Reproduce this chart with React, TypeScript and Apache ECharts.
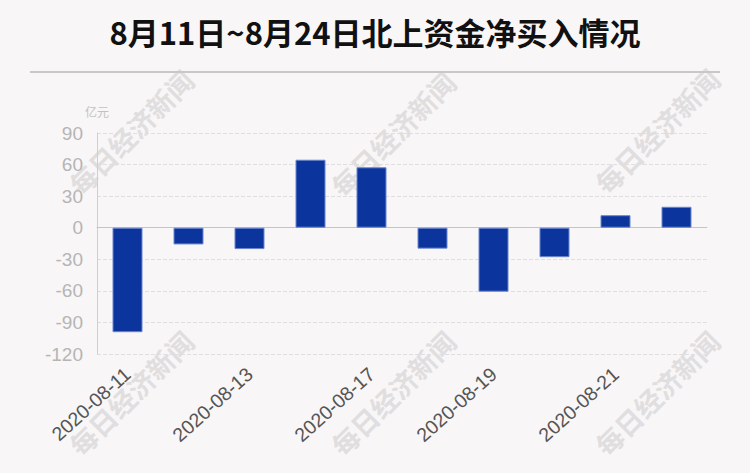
import React, { useEffect, useRef } from "react";
import * as echarts from "echarts";

const TITLE = "8月11日~8月24日北上资金净买入情况";
const UNIT = "亿元";
const WATERMARK = "每日经济新闻";
const dates = [
  "2020-08-11",
  "2020-08-12",
  "2020-08-13",
  "2020-08-14",
  "2020-08-17",
  "2020-08-18",
  "2020-08-19",
  "2020-08-20",
  "2020-08-21",
  "2020-08-24",
];
const netBuy = [-99.3, -15.9, -20.3, 64.6, 57.4, -19.9, -60.8, -28.0, 11.9, 19.9];

const BG = "#f9f6f7";

export default function App() {
  const ref = useRef<HTMLDivElement>(null);
  useEffect(() => {
    document.body.style.margin = "0";
    document.body.style.background = BG;
    const chart = echarts.init(ref.current!, undefined, { renderer: "svg" });
    const wmCenters = [
      [131, 132],
      [393, 134],
      [657, 131],
      [131, 393],
      [393, 393],
      [657, 393],
    ];
    chart.setOption({
      animation: false,
      backgroundColor: BG,
      title: {
        text: TITLE,
        left: "center",
        top: 11,
        textStyle: {
          fontSize: 31,
          fontWeight: "bold",
          color: "#111111",
          fontFamily: "Noto Sans CJK SC",
        },
      },
      graphic: [
        ...wmCenters.map(([x, y]) => ({
          type: "text",
          x,
          y,
          rotation: Math.PI / 4,
          z: 0,
          silent: true,
          style: {
            text: WATERMARK,
            fill: "#e0dedf",
            font: "bold 27px 'Noto Sans CJK SC'",
            align: "center",
            verticalAlign: "middle",
          },
        })),
        {
          type: "line",
          shape: { x1: 30, y1: 72, x2: 720, y2: 72 },
          style: { stroke: "#c8c8c8", lineWidth: 2 },
        },
      ],
      grid: { left: 97, right: 43, top: 133, bottom: 119 },
      xAxis: {
        type: "category",
        data: dates,
        axisLine: { onZero: true, lineStyle: { color: "#c4c4c4", width: 1 } },
        axisTick: { show: false },
        axisLabel: {
          interval: 1,
          rotate: 42,
          margin: 17,
          fontSize: 19.5,
          color: "#555555",
          fontFamily: "Liberation Sans",
        },
      },
      yAxis: {
        type: "value",
        min: -120,
        max: 90,
        interval: 30,
        name: UNIT,
        nameGap: 16,
        nameTextStyle: { color: "#c2c2c2", fontSize: 12, fontFamily: "Noto Sans CJK SC" },
        axisLine: { show: true, lineStyle: { color: "#cfcfcf" } },
        axisTick: { show: false },
        axisLabel: {
          margin: 14,
          fontSize: 19,
          color: "#b5b5b5",
          fontFamily: "Liberation Sans",
        },
        splitLine: { lineStyle: { type: "dashed", color: "#e0dedf" } },
      },
      series: [
        {
          type: "bar",
          data: netBuy,
          barWidth: 30,
          itemStyle: { color: "#0b359d", borderColor: "#6a86cf", borderWidth: 1 },
        },
      ],
    });
    return () => chart.dispose();
  }, []);
  return <div ref={ref} style={{ width: 750, height: 473 }} />;
}
